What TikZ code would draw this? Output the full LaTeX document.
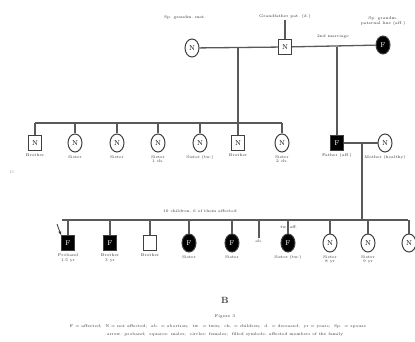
\documentclass[tikz,border=0pt]{standalone}
\usepackage{tikz}
\usetikzlibrary{arrows.meta}
\usetikzlibrary{positioning, shapes.geometric}

\tikzset{
    male/.style={draw=black!75, line width=1pt, rectangle, minimum width=13pt, minimum height=15pt, inner sep=0pt, font=\fontsize{7}{7}\selectfont},
    female/.style={draw=black!75, line width=1pt, ellipse, minimum width=14pt, minimum height=18pt, inner sep=0pt, font=\fontsize{7}{7}\selectfont},
    affected/.style={fill=black, text=white},
    lbl/.style={font=\fontsize{4}{4.6}\selectfont, text=black!80, align=center, inner sep=0.5pt},
    link/.style={draw=black!65, line width=1.3pt}
}

\begin{document}
\begin{tikzpicture}[x=1pt, y=-1pt]
    \useasboundingbox (0,0) rectangle (415,342);

    % generation I
    \node[female] (ga) at (192,48) {N};
    \node[male] (gb) at (285,47) {N};
    \node[female, affected] (gc) at (383,45) {F};
    \node[lbl] (gal) at (185,18) {Sp.\ grandm.\ mat.};
    \node[lbl] (gbl) at (285,17) {Grandfather pat.\ (d.)};
    \node[lbl] (gcl) at (383,21) {Sp.\ grandm.\\ paternal line (aff.)};
    \node[lbl] (mbl) at (333,37) {2nd marriage};
    \draw[link] (gbl) -- (gb);
    \draw[link] (ga) -- (gb);
    \draw[link] (gb) -- (gc);
    \coordinate (ma) at (238,47);
    \coordinate (mb) at (337,47);

    % generation II
    \coordinate (sa) at (35,123);
    \coordinate (sb) at (282,123);
    \draw[link] (sa) -- (sb);
    \draw[link] (ma) -- (ma |- sa);
    \node[lbl, text=black!40] (gen2) at (12,172) {II};

    \node[male] (c1) at (35,143) {N};
    \node[female] (c2) at (75,143) {N};
    \node[female] (c3) at (117,143) {N};
    \node[female] (c4) at (158,143) {N};
    \node[female] (c5) at (200,143) {N};
    \node[male] (c6) at (238,143) {N};
    \node[female] (c7) at (282,143) {N};
    \foreach \c in {c1,c2,c3,c4,c5,c6,c7}
        \draw[link] (\c.north) -- (\c.north |- sa);

    \node[lbl, below=2pt of c1] (c1l) {Brother};
    \node[lbl, below=2pt of c2] (c2l) {Sister};
    \node[lbl, below=2pt of c3] (c3l) {Sister};
    \node[lbl, below=2pt of c4] (c4l) {Sister\\ 1 ch.};
    \node[lbl, below=2pt of c5] (c5l) {Sister (tw.)};
    \node[lbl, below=2pt of c6] (c6l) {Brother};
    \node[lbl, below=2pt of c7] (c7l) {Sister\\ 2 ch.};

    \node[male, affected] (fa) at (337,143) {F};
    \node[female] (mo) at (385,143) {N};
    \node[lbl, below=2pt of fa] (fal) {Father (aff.)};
    \node[lbl, below=2pt of mo] (mol) {Mother (healthy)};
    \draw[link] (mb) -- (fa);
    \draw[link] (fa) -- (mo);
    \coordinate (mc) at (362,143);

    % generation III
    \coordinate (ta) at (62,220);
    \coordinate (tb) at (408,220);
    \draw[link] (ta) -- (tb);
    \draw[link] (mc) -- (mc |- ta);
    \node[lbl] (tl) at (200,211) {10 children, 6 of them affected};

    \node[male, affected] (k1) at (68,243) {F};
    \node[male, affected] (k2) at (110,243) {F};
    \node[male] (k3) at (150,243) {};
    \node[female, affected] (k4) at (189,243) {F};
    \node[female, affected] (k5) at (232,243) {F};
    \coordinate (k6) at (259,238);
    \node[female, affected] (k7) at (288,243) {F};
    \node[female] (k8) at (330,243) {N};
    \node[female] (k9) at (368,243) {N};
    \node[female] (k10) at (409,243) {N};
    \foreach \c in {k1,k2,k3,k4,k5,k7,k8,k9,k10}
        \draw[link] (\c.north) -- (\c.north |- ta);
    \draw[link] (k6) -- (k6 |- ta);
    \node[lbl, below=1pt of k6] (k6l) {ab.};
    \node[lbl] (k7t) at (289,227) {tw.\ aff.};
    \draw[-{Stealth[length=4pt]}, black!80, line width=0.8pt] (57,224) -- (k1.north west);

    \node[lbl, below=2pt of k1] (k1l) {Proband\\ 1.5 yr};
    \node[lbl, below=2pt of k2] (k2l) {Brother\\ 3 yr};
    \node[lbl, below=2pt of k3] (k3l) {Brother};
    \node[lbl, below=2pt of k4] (k4l) {Sister};
    \node[lbl, below=2pt of k5] (k5l) {Sister};
    \node[lbl, below=2pt of k7] (k7l) {Sister (tw.)};
    \node[lbl, below=2pt of k8] (k8l) {Sister\\ 8 yr};
    \node[lbl, below=2pt of k9] (k9l) {Sister\\ 9 yr};

    % caption
    \node[font=\bfseries\small, text=black!75] (fig) at (225,300) {B};
    \node[lbl] (cap) at (225,317) {Figure 3};
    \node[lbl] (cap1) at (218,326) {F = affected;\ \ N = not affected;\ \ ab. = abortion;\ \ tw. = twin;\ \ ch. = children;\ \ d. = deceased;\ \ yr = years;\ \ Sp. = spouse};
    \node[lbl] (cap2) at (225,334) {arrow: proband;\ \ squares: males;\ \ circles: females;\ \ filled symbols: affected members of the family};
\end{tikzpicture}
\end{document}
